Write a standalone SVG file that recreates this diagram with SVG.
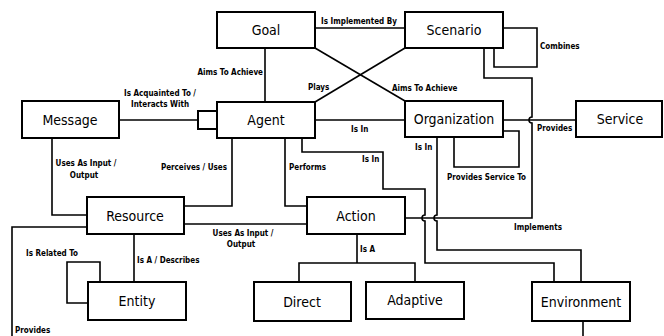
<svg xmlns="http://www.w3.org/2000/svg" width="664" height="336" viewBox="0 0 664 336">
<style>
.box{fill:#fff;stroke:#000;stroke-width:2}
.nt{font-family:"DejaVu Sans Condensed","DejaVu Sans",sans-serif;font-size:14px;fill:#000;text-anchor:middle;dominant-baseline:central}
.lb{font-family:"DejaVu Sans Condensed","DejaVu Sans",sans-serif;font-size:8px;font-weight:bold;fill:#000}
.c{fill:none;stroke:#000;stroke-width:1.6}
</style>
<rect width="664" height="336" fill="#fff"/>
<g id="connectors">
<path class="c" d="M315 28H405"/>
<path class="c" d="M265 48V102"/>
<path class="c" d="M315 48L405 101"/>
<path class="c" d="M315 102L405 48"/>
<path class="c" d="M315 120H405"/>
<path class="c" d="M119 120H198"/>
<path class="c" d="M503 28H537V67H494V48"/>
<path class="c" d="M503 131H519V167H454V137"/>
<path class="c" d="M503 120H576"/>
<path class="c" d="M484 48V78H532V117A3 3 0 0 0 532 123V218H405"/>
<path class="c" d="M302 138V152H383V189H425V215A3 3 0 0 0 425 221V263H554V282"/>
<path class="c" d="M437 137V215A3 3 0 0 0 437 221V250H581V282"/>
<path class="c" d="M52 138V215H87"/>
<path class="c" d="M232 138V206H184"/>
<path class="c" d="M285 138V206H307"/>
<path class="c" d="M184 224H307"/>
<path class="c" d="M134 234V282"/>
<path class="c" d="M100 282V262H67V303H88"/>
<path class="c" d="M87 227H12V340"/>
<path class="c" d="M583 321V340"/>
<path class="c" d="M357 234V263"/>
<path class="c" d="M299 282V263H415V282"/>
<text class="lb" x="359" y="24" text-anchor="middle">Is Implemented By</text>
<text class="lb" x="263" y="75" text-anchor="end">Aims To Achieve</text>
<text class="lb" x="308" y="90">Plays</text>
<text class="lb" x="392" y="91">Aims To Achieve</text>
<text class="lb" x="160" y="96" text-anchor="middle">Is Acquainted To /</text>
<text class="lb" x="160" y="107" text-anchor="middle">Interacts With</text>
<text class="lb" x="540" y="49">Combines</text>
<text class="lb" x="351" y="132">Is In</text>
<text class="lb" x="362" y="162">Is In</text>
<text class="lb" x="415" y="150">Is In</text>
<text class="lb" x="537" y="131">Provides</text>
<text class="lb" x="447" y="180">Provides Service To</text>
<text class="lb" x="86" y="166" text-anchor="middle">Uses As Input /</text>
<text class="lb" x="84" y="178" text-anchor="middle">Output</text>
<text class="lb" x="227" y="170" text-anchor="end">Perceives / Uses</text>
<text class="lb" x="289" y="170">Performs</text>
<text class="lb" x="243" y="236" text-anchor="middle">Uses As Input /</text>
<text class="lb" x="241" y="247" text-anchor="middle">Output</text>
<text class="lb" x="137" y="263">Is A / Describes</text>
<text class="lb" x="26" y="256">Is Related To</text>
<text class="lb" x="360" y="252">Is A</text>
<text class="lb" x="514" y="230">Implements</text>
<text class="lb" x="15" y="333">Provides</text>
</g>
<g id="goal"><rect class="box" x="217" y="12" width="98" height="36"/><text class="nt" x="266" y="30">Goal</text></g>
<g id="scenario"><rect class="box" x="405" y="12" width="98" height="36"/><text class="nt" x="454" y="30">Scenario</text></g>
<g id="message"><rect class="box" x="22" y="101" width="97" height="37"/><text class="nt" x="70" y="119.5">Message</text></g>
<g id="agent"><rect class="box" x="198" y="111" width="19" height="18"/><rect class="box" x="217" y="102" width="98" height="36"/><text class="nt" x="266" y="120">Agent</text></g>
<g id="organization"><rect class="box" x="405" y="101" width="98" height="36"/><text class="nt" x="454" y="119">Organization</text></g>
<g id="service"><rect class="box" x="576" y="101" width="86" height="36"/><text class="nt" x="620" y="119">Service</text></g>
<g id="resource"><rect class="box" x="87" y="197" width="97" height="37"/><text class="nt" x="135" y="215.5">Resource</text></g>
<g id="action"><rect class="box" x="307" y="197" width="98" height="37"/><text class="nt" x="356" y="215.5">Action</text></g>
<g id="entity"><rect class="box" x="88" y="282" width="98" height="38"/><text class="nt" x="137" y="301">Entity</text></g>
<g id="direct"><rect class="box" x="254" y="282" width="97" height="39"/><text class="nt" x="302" y="301.5">Direct</text></g>
<g id="adaptive"><rect class="box" x="366" y="282" width="98" height="37"/><text class="nt" x="415" y="300">Adaptive</text></g>
<g id="environment"><rect class="box" x="532" y="282" width="98" height="39"/><text class="nt" x="581" y="301.5">Environment</text></g>
</svg>
